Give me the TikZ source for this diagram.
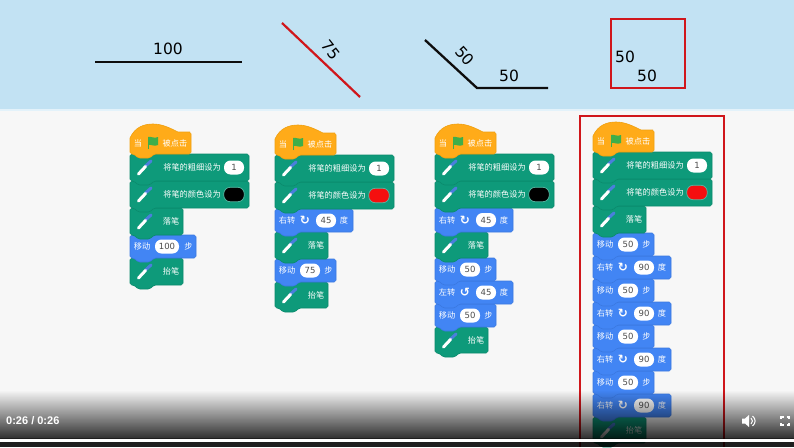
\documentclass[tikz,border=0pt]{standalone}
\usepackage{fontspec}
\setmainfont{DejaVu Sans}
\newfontfamily\cjk{Noto Sans CJK SC}
\newfontfamily\timefont{Liberation Sans}
\definecolor{skyband}{HTML}{C2E2F3}
\definecolor{stage}{HTML}{F7F7F7}
\definecolor{hatfill}{HTML}{FFAB19}
\definecolor{hatline}{HTML}{EFA010}
\definecolor{penfill}{HTML}{0E9A7A}
\definecolor{penline}{HTML}{0B8A6C}
\definecolor{movefill}{HTML}{4285F4}
\definecolor{moveline}{HTML}{3A78E0}
\definecolor{frame}{HTML}{D0161B}
\definecolor{flagc}{HTML}{3FAE4A}
\definecolor{ovalred}{HTML}{F50F0F}
\definecolor{pentip}{HTML}{4A7FDC}
\tikzset{
  blocktext/.style={text=white,font=\cjk\fontsize{8.2}{8.2}\selectfont,inner sep=0pt},
  valtext/.style={text=black!70,font=\fontsize{8.5}{9}\selectfont,inner sep=0pt},
  oval/.style={fill=white,rounded corners=6.5pt,inner sep=0pt,minimum height=14pt},
  drawing/.style={line width=2.3pt,black!95},
  dim/.style={font=\fontsize{15.5}{15.5}\selectfont,inner sep=0pt,text=black},
  redbox/.style={draw=frame,line width=2.8pt},
}
\newcount\nn
\def\nx{\global\advance\nn by 1\relax}
% text label
\def\lbl#1#2#3{\nx\node[blocktext] (n\the\nn) at ({#1},{#2}) {#3};}
% block body: x y w h fill line
\def\blk#1#2#3#4#5#6{\draw[fill=#5,draw=#6,line width=.6pt,rounded corners=1.8pt]
 (#1,#2) -- ({#1+#3},#2) -- ({#1+#3},{#2+#4}) -- ({#1+24},{#2+#4}) -- ({#1+20},{#2+#4+4}) -- ({#1+8},{#2+#4+4}) -- ({#1+4},{#2+#4}) -- (#1,{#2+#4}) -- cycle;}
% pen icon at block x,y
\def\penicon#1#2{%
 \draw[line width=3pt,pentip,line cap=round] ({#1+15.5},{#2+12}) -- ({#1+21},{#2+7});
 \draw[line width=3pt,white,line cap=round] ({#1+8.5},{#2+20}) -- ({#1+15.5},{#2+12.5});}
% pen block without input
\def\penb#1#2#3#4#5{\blk{#1}{#2}{#3}{#4}{penfill}{penline}\penicon{#1}{#2}\lbl{#1+41}{#2+#4/2}{#5}}
% pen width block
\def\penw#1#2#3{\blk{#1}{#2}{119}{#3}{penfill}{penline}\penicon{#1}{#2}\lbl{#1+62}{#2+#3/2}{将笔的粗细设为}
 \nx\node[oval,minimum width=20pt] (n\the\nn) at ({#1+104},{#2+#3/2}) {};
 \nx\node[valtext] (n\the\nn) at ({#1+104},{#2+#3/2}) {1};}
% pen colour block
\def\penc#1#2#3#4{\blk{#1}{#2}{119}{#3}{penfill}{penline}\penicon{#1}{#2}\lbl{#1+62}{#2+#3/2}{将笔的颜色设为}
 \nx\node[draw=penfill!70!white,line width=.7pt,fill=#4,rounded corners=6.5pt,inner sep=0pt,minimum height=14.5pt,minimum width=20.5pt] (n\the\nn) at ({#1+104},{#2+#3/2}) {};}
% move block: x y h value w ovalw
\def\moveb#1#2#3#4#5#6{\blk{#1}{#2}{#5}{#3}{movefill}{moveline}\lbl{#1+12}{#2+#3/2}{移动}
 \nx\node[oval,minimum width=#6pt] (n\the\nn) at ({#1+25+#6/2},{#2+#3/2}) {};
 \nx\node[valtext] (n\the\nn) at ({#1+25+#6/2},{#2+#3/2}) {#4};
 \lbl{#1+#5-7.5}{#2+#3/2}{步}}
% turn block: x y h value name arrow
\def\turnb#1#2#3#4#5#6{\blk{#1}{#2}{78}{#3}{movefill}{moveline}\lbl{#1+12}{#2+#3/2}{#5}
 \nx\node[text=white,inner sep=0pt,font=\bfseries\fontsize{12}{12}\selectfont] (n\the\nn) at ({#1+30},{#2+#3/2}) {#6};
 \nx\node[oval,minimum width=20pt] (n\the\nn) at ({#1+51},{#2+#3/2}) {};
 \nx\node[valtext] (n\the\nn) at ({#1+51},{#2+#3/2}) {#4};
 \lbl{#1+69}{#2+#3/2}{度}}
% hat block: x top(bottom of hat = y+30)
\def\hatb#1#2{\draw[fill=hatfill,draw=hatline,line width=.6pt]
 (#1,{#2+30}) -- (#1,{#2+14}) .. controls ({#1+5},{#2+3}) and ({#1+14},#2) .. ({#1+23},#2)
 .. controls ({#1+32},#2) and ({#1+40},{#2+4}) .. ({#1+48},{#2+8}) -- ({#1+60},{#2+8})
 [rounded corners=1.8pt] -- ({#1+61},{#2+8}) -- ({#1+61},{#2+30}) -- ({#1+24},{#2+30}) -- ({#1+20},{#2+34}) -- ({#1+8},{#2+34}) -- ({#1+4},{#2+30}) -- cycle;
 \lbl{#1+8}{#2+19}{当}
 \draw[line width=.9pt,flagc] ({#1+18},{#2+25}) -- ({#1+18},{#2+13});
 \fill[flagc] ({#1+18},{#2+13}) .. controls ({#1+21},{#2+12}) and ({#1+24},{#2+15}) .. ({#1+28},{#2+13}) -- ({#1+28},{#2+21}) .. controls ({#1+24},{#2+23}) and ({#1+21},{#2+20}) .. ({#1+18},{#2+21}) -- cycle;
 \lbl{#1+45}{#2+19}{被点击}}
\begin{document}
\begin{tikzpicture}[x=1pt,y=-1pt]
\useasboundingbox (0,0) rectangle (794,447);
\fill[stage] (0,0) rectangle (794,447);
\fill[skyband] (0,0) rectangle (794,109);
\fill[skyband!45!white] (0,109) rectangle (794,111);
% top drawings
\coordinate (a1) at (95,62); \coordinate (a2) at (242,62);
\draw[drawing] (a1) -- (a2);
\node[dim] (ta) at (168,48.5) {100};
\coordinate (b1) at (282,23); \coordinate (b2) at (360,97);
\draw[line width=2.2pt,frame] (b1) -- (b2);
\node[dim,rotate=-52] (tb) at (331,50) {75};
\coordinate (c1) at (425,40); \coordinate (c2) at (477,88); \coordinate (c3) at (548,88);
\draw[drawing] (c1) -- (c2) -- (c3);
\node[dim,rotate=-48] (tc) at (465,56) {50};
\node[dim] (td) at (509,76) {50};
\node[redbox,minimum width=74pt,minimum height=69pt,inner sep=0pt] (sq) at (648,53.5) {};
\node[dim] (te) at (625,57) {50};
\node[dim] (tf) at (647,76) {50};
% stack 1
\penb{130}{258}{53}{27}{抬笔}
\moveb{130}{235}{23}{100}{66}{24}
\penb{130}{208}{53}{27}{落笔}
\penc{130}{181}{27}{black}
\penw{130}{154}{27}
\hatb{130}{124}
% stack 2
\penb{275}{282}{53}{26}{抬笔}
\moveb{275}{259}{23}{75}{61}{20}
\penb{275}{232}{53}{27}{落笔}
\turnb{275}{209}{23}{45}{右转}{↻}
\penc{275}{182}{27}{ovalred}
\penw{275}{155}{27}
\hatb{275}{125}
% stack 3
\penb{435}{327}{53}{26}{抬笔}
\moveb{435}{304}{23}{50}{61}{20}
\turnb{435}{281}{23}{45}{左转}{↺}
\moveb{435}{258}{23}{50}{61}{20}
\penb{435}{232}{53}{26}{落笔}
\turnb{435}{208}{24}{45}{右转}{↻}
\penc{435}{181}{27}{black}
\penw{435}{154}{27}
\hatb{435}{124}
% stack 4
\penb{593}{417}{53}{26}{抬笔}
\turnb{593}{394}{23}{90}{右转}{↻}
\moveb{593}{371}{23}{50}{61}{20}
\turnb{593}{348}{23}{90}{右转}{↻}
\moveb{593}{325}{23}{50}{61}{20}
\turnb{593}{302}{23}{90}{右转}{↻}
\moveb{593}{279}{23}{50}{61}{20}
\turnb{593}{256}{23}{90}{右转}{↻}
\moveb{593}{233}{23}{50}{61}{20}
\penb{593}{206}{53}{27}{落笔}
\penc{593}{179}{27}{ovalred}
\penw{593}{152}{27}
\hatb{593}{122}
% red frame
\coordinate (f1) at (580,447); \coordinate (f2) at (580,116); \coordinate (f3) at (724,116); \coordinate (f4) at (724,447);
\draw[redbox] (f1) -- (f2) -- (f3) -- (f4);
% video controls
\foreach \i in {0,...,47}{
  \pgfmathsetmacro{\op}{0.78*(\i/47)}
  \fill[black,opacity=\op] (0,{390+\i}) rectangle (794,{391.2+\i});
}
\fill[black,opacity=.88] (0,438) rectangle (794,447);
\fill[white] (0,438.5) rectangle (794,441.5);
\node[text=white,anchor=west,inner sep=0pt,font=\timefont\bfseries\fontsize{11}{11}\selectfont] (time) at (6,421) {0:26 / 0:26};
% speaker
\fill[white] (742,418.5) -- (745,418.5) -- (749,415) -- (749,427) -- (745,423.5) -- (742,423.5) -- cycle;
\draw[white,line width=1pt] (751,418) .. controls (753,420) and (753,422) .. (751,424);
\draw[white,line width=1pt] (752.5,416) .. controls (756,419) and (756,423) .. (752.5,426);
% fullscreen
\draw[white,line width=1.4pt] (781,419) -- (781,417) -- (783.5,417) (786.5,417) -- (789,417) -- (789,419) (789,423) -- (789,425) -- (786.5,425) (783.5,425) -- (781,425) -- (781,423);
\end{tikzpicture}
\end{document}
